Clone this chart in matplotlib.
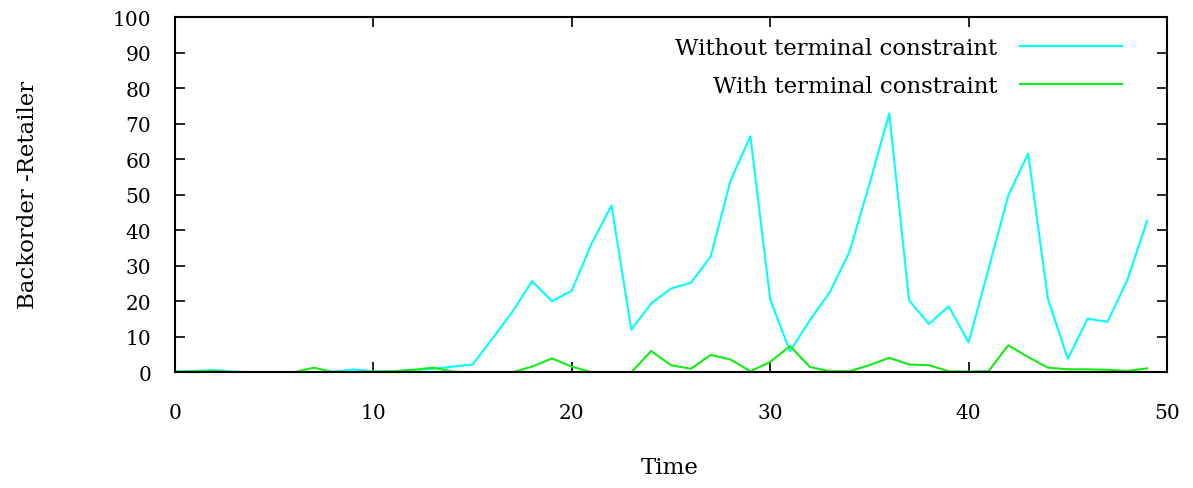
import matplotlib
matplotlib.use("Agg")
import matplotlib.pyplot as plt

time = list(range(50))
without_tc = [0.3, 0.4, 0.6, 0.2, 0.0, 0.0, 0.0, 0.0, 0.2, 0.8,
              0.2, 0.3, 0.6, 1.0, 1.6, 2.2, 9.5, 17.0, 25.7, 20.0,
              23.0, 36.3, 47.0, 12.0, 19.4, 23.6, 25.2, 32.6, 54.0, 66.5,
              20.5, 5.9, 14.7, 22.5, 34.0, 53.0, 72.9, 20.3, 13.6, 18.6,
              8.4, 29.0, 49.8, 61.6, 20.6, 3.8, 15.1, 14.2, 26.0, 42.7]
with_tc = [0.0, 0.3, 0.4, 0.0, 0.0, 0.0, 0.0, 1.3, 0.0, 0.0,
           0.2, 0.3, 0.7, 1.3, 0.2, 0.0, 0.0, 0.0, 1.6, 3.9,
           1.6, 0.0, 0.0, 0.0, 6.0, 2.0, 1.0, 4.9, 3.6, 0.3,
           2.9, 7.4, 1.5, 0.3, 0.3, 2.0, 4.1, 2.2, 2.0, 0.3,
           0.2, 0.3, 7.6, 4.3, 1.3, 0.85, 0.85, 0.7, 0.4, 1.1]
labels = ["Without terminal constraint", "With terminal constraint"]
xticks = [0, 10, 20, 30, 40, 50]
yticks = list(range(0, 101, 10))

plt.rcParams['font.family'] = ['DejaVu Serif']
fs = 14.5
tfs = 16.5

fig = plt.figure(figsize=(11.93, 4.89), dpi=100)
ax = fig.add_axes([175/1193, 1 - 373.3/489, (1167-175)/1193, (373.3-18.3)/489])

ax.plot(time, without_tc, color='#00ffff', lw=1.5, label=labels[0])
ax.plot(time, with_tc, color='#11ee11', lw=1.5, label=labels[1])

ax.set_xlim(0, 50)
ax.set_ylim(0, 100)
ax.set_xticks(xticks)
ax.set_yticks(yticks)
ax.tick_params(direction='in', top=True, right=True, length=7, width=1.2,
               labelsize=fs, colors='black')
ax.tick_params(axis='x', pad=22)
ax.tick_params(axis='y', pad=17)
for s in ax.spines.values():
    s.set_linewidth(1.5)

fig.text(670/1193, 1 - 468/489, "Time", fontsize=tfs, ha='center', va='center')
fig.text(28/1193, 1 - 195/489, "Backorder -Retailer", rotation=90,
         fontsize=tfs, ha='center', va='center')

leg = ax.legend(loc='upper right', frameon=False, markerfirst=False,
                fontsize=tfs, handlelength=4.45, handletextpad=1.0,
                labelspacing=0.68, borderaxespad=0.0, borderpad=0.0,
                bbox_to_anchor=((1122-175)/992, (373.3-38)/355))
for t in leg.get_texts():
    t.set_ha('right')

fig.savefig("out.png", dpi=100)
